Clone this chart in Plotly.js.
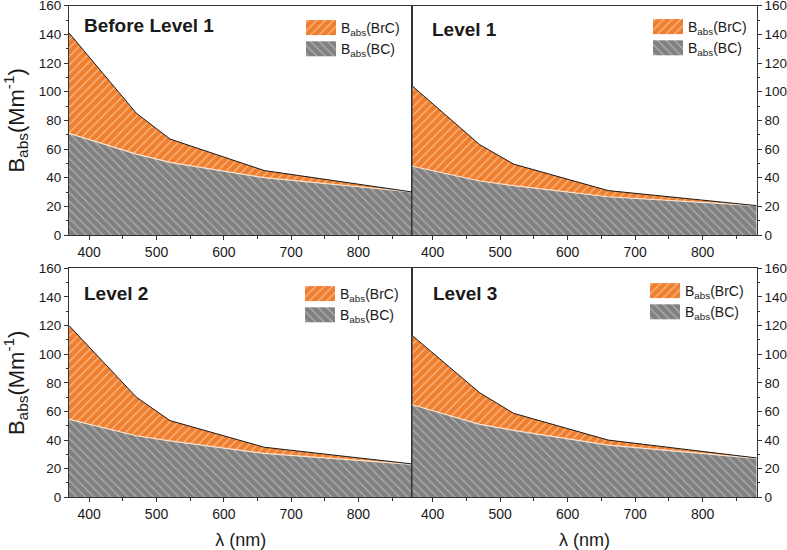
<!DOCTYPE html>
<html>
<head>
<meta charset="utf-8">
<script src="https://cdn.plot.ly/plotly-3.0.1.min.js"></script>
<style>html,body{margin:0;padding:0;background:#fff;}#chart{width:787px;height:550px;}</style>
</head>
<body>
<div id="chart"></div>
<script>
// Wavelengths (nm)
var wavelength = [370, 470, 520, 660, 880];
// Panel titles
var panelTitles = ["Before Level 1", "Level 1", "Level 2", "Level 3"];
// Babs(BC), Mm^-1
var bcBefore = [71, 56.5, 50.7, 40, 30];
var bcLevel1 = [48, 37.7, 34.4, 26.7, 20.5];
var bcLevel2 = [54.5, 43, 39.4, 30.7, 23];
var bcLevel3 = [64.7, 51, 46.8, 36.5, 27.2];
// Babs(BrC), Mm^-1 (stacked on BC)
var brcBefore = [70, 28.5, 16.3, 5, 0];
var brcLevel1 = [56, 25.3, 15.1, 4.3, 0];
var brcLevel2 = [65.5, 27, 14.2, 4.3, 0.3];
var brcLevel3 = [48.3, 22, 11.9, 3.5, 0.3];
// Tick values
var xTicks = [400, 500, 600, 700, 800];
var yTicks = [0, 20, 40, 60, 80, 100, 120, 140, 160];

var bcSets = [bcBefore, bcLevel1, bcLevel2, bcLevel3];
var brcSets = [brcBefore, brcLevel1, brcLevel2, brcLevel3];

var FONT = "Liberation Sans, Arial, sans-serif";
var ORANGE = "#EF7E2E";
var GRAY = "#818181";

var traces = [];
for (var i = 0; i < 4; i++) {
  var ax = i === 0 ? "" : String(i + 1);
  var lg = i === 0 ? "legend" : "legend" + (i + 1);
  traces.push({
    type: "scatter", mode: "lines", x: wavelength, y: bcSets[i],
    xaxis: "x" + ax, yaxis: "y" + ax, stackgroup: "s" + i,
    name: "B<sub>abs</sub>(BC)", legend: lg, legendrank: 2,
    line: {color: "#FBE2CC", width: 1.2},
    fillcolor: GRAY,
    fillpattern: {shape: "\\", bgcolor: GRAY, fgcolor: "#B2B2B2", size: 6, solidity: 0.2},
    hoverinfo: "skip"
  });
  traces.push({
    type: "scatter", mode: "lines", x: wavelength, y: brcSets[i],
    xaxis: "x" + ax, yaxis: "y" + ax, stackgroup: "s" + i,
    name: "B<sub>abs</sub>(BrC)", legend: lg, legendrank: 1,
    line: {color: "#1a1a1a", width: 1},
    fillcolor: ORANGE,
    fillpattern: {shape: "/", bgcolor: ORANGE, fgcolor: "#F8BC8E", size: 6, solidity: 0.2},
    hoverinfo: "skip"
  });
}

var xDom = [[0.0877, 0.5239], [0.5239, 0.9615]];
var yDom = [[0.5727, 0.9896], [0.0958, 0.5121]];

function xAxis(col, row) {
  return {
    domain: xDom[col], anchor: "y" + (row * 2 + col === 0 ? "" : (row * 2 + col + 1)),
    range: [370, 880], tickvals: xTicks, ticks: "outside", ticklen: 4, tickwidth: 1, tickcolor: "#333",
    minor: {dtick: 50, tick0: 0, ticks: "outside", ticklen: 2.5, tickcolor: "#333"},
    showline: true, linecolor: "#333", linewidth: 1, mirror: true, showgrid: false, zeroline: false,
    tickfont: {family: FONT, size: 14, color: "#1a1a1a"},
    title: row === 1 ? {text: "λ (nm)", font: {family: FONT, size: 18, color: "#1a1a1a"}, standoff: 14} : {text: ""}
  };
}
function yAxis(col, row) {
  var idx = row * 2 + col;
  return {
    domain: yDom[row], anchor: "x" + (idx === 0 ? "" : (idx + 1)),
    side: col === 0 ? "left" : "right",
    range: [0, 160], tickvals: yTicks, ticks: "outside", ticklen: 4, tickwidth: 1, tickcolor: "#333",
    minor: {dtick: 10, tick0: 0, ticks: "outside", ticklen: 2.5, tickcolor: "#333"},
    showline: true, linecolor: "#333", linewidth: 1, mirror: true, showgrid: false, zeroline: false,
    ticklabeloverflow: "allow",
    tickfont: {family: FONT, size: 13.5, color: "#1a1a1a"},
    title: col === 0 ? {text: "B<sub>abs</sub>(Mm<sup>-1</sup>)", font: {family: FONT, size: 22, color: "#1a1a1a"}, standoff: 8} : {text: ""}
  };
}

function legendAt(xpx, ypx) {
  return {
    x: xpx / 787, y: 1 - ypx / 550, xanchor: "left", yanchor: "top",
    bgcolor: "rgba(0,0,0,0)", borderwidth: 0, traceorder: "normal",
    font: {family: FONT, size: 14, color: "#1a1a1a"}, itemwidth: 30, tracegroupgap: 0
  };
}

var layout = {
  width: 787, height: 550,
  margin: {l: 0, r: 0, t: 0, b: 0},
  paper_bgcolor: "#fff", plot_bgcolor: "#fff",
  showlegend: true,
  xaxis: xAxis(0, 0), yaxis: yAxis(0, 0),
  xaxis2: xAxis(1, 0), yaxis2: yAxis(1, 0),
  xaxis3: xAxis(0, 1), yaxis3: yAxis(0, 1),
  xaxis4: xAxis(1, 1), yaxis4: yAxis(1, 1),
  legend: legendAt(301, 12),
  legend2: legendAt(648, 11),
  legend3: legendAt(300, 278),
  legend4: legendAt(645, 275),
  annotations: [
    {text: "<b>" + panelTitles[0] + "</b>", xref: "paper", yref: "paper", x: 82 / 787, y: 1 - 13 / 550, xanchor: "left", yanchor: "top", showarrow: false, font: {family: FONT, size: 19, color: "#1a1a1a"}},
    {text: "<b>" + panelTitles[1] + "</b>", xref: "paper", yref: "paper", x: 430 / 787, y: 1 - 17 / 550, xanchor: "left", yanchor: "top", showarrow: false, font: {family: FONT, size: 19, color: "#1a1a1a"}},
    {text: "<b>" + panelTitles[2] + "</b>", xref: "paper", yref: "paper", x: 82 / 787, y: 1 - 281 / 550, xanchor: "left", yanchor: "top", showarrow: false, font: {family: FONT, size: 19, color: "#1a1a1a"}},
    {text: "<b>" + panelTitles[3] + "</b>", xref: "paper", yref: "paper", x: 431 / 787, y: 1 - 281 / 550, xanchor: "left", yanchor: "top", showarrow: false, font: {family: FONT, size: 19, color: "#1a1a1a"}}
  ]
};

Plotly.newPlot("chart", traces, layout, {staticPlot: true, displayModeBar: false}).then(function (gd) {
  // enlarge legend swatches to match the reference's rectangular hatched boxes
  gd.querySelectorAll(".legendfill path").forEach(function (p) {
    p.setAttribute("d", "M5,-7.5h30v15h-30z");
  });
  gd.querySelectorAll(".legendlines path").forEach(function (p) {
    p.style.display = "none";
  });
});
</script>
</body>
</html>
